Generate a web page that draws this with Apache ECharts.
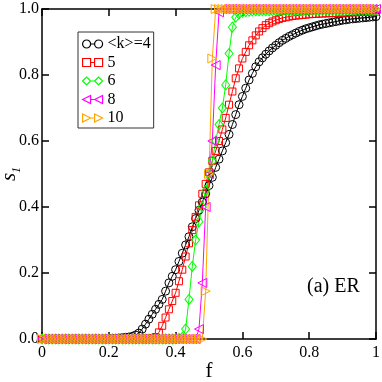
<!DOCTYPE html>
<html>
<head>
<meta charset="utf-8">
<script src="https://cdn.jsdelivr.net/npm/echarts@6/dist/echarts.min.js"></script>
<style>
  html, body { margin: 0; padding: 0; background: #fff; }
  #chart { width: 382px; height: 382px; }
</style>
</head>
<body>
<div id="chart"></div>
<script>
// f grid, step 0.01
const fGrid = [
  0.00, 0.01, 0.02, 0.03, 0.04, 0.05, 0.06, 0.07, 0.08, 0.09,
  0.10, 0.11, 0.12, 0.13, 0.14, 0.15, 0.16, 0.17, 0.18, 0.19,
  0.20, 0.21, 0.22, 0.23, 0.24, 0.25, 0.26, 0.27, 0.28, 0.29,
  0.30, 0.31, 0.32, 0.33, 0.34, 0.35, 0.36, 0.37, 0.38, 0.39,
  0.40, 0.41, 0.42, 0.43, 0.44, 0.45, 0.46, 0.47, 0.48, 0.49,
  0.50, 0.51, 0.52, 0.53, 0.54, 0.55, 0.56, 0.57, 0.58, 0.59,
  0.60, 0.61, 0.62, 0.63, 0.64, 0.65, 0.66, 0.67, 0.68, 0.69,
  0.70, 0.71, 0.72, 0.73, 0.74, 0.75, 0.76, 0.77, 0.78, 0.79,
  0.80, 0.81, 0.82, 0.83, 0.84, 0.85, 0.86, 0.87, 0.88, 0.89,
  0.90, 0.91, 0.92, 0.93, 0.94, 0.95, 0.96, 0.97, 0.98, 0.99,
  1.00
];

// s1 for <k>=4
const s1K4 = [
  0, 0, 0, 0, 0, 0, 0, 0, 0, 0,
  0, 0, 0, 0, 0, 0, 0, 0, 0, 0,
  0.001, 0.002, 0.002, 0.003, 0.004, 0.005, 0.006, 0.008, 0.012, 0.018,
  0.03, 0.045, 0.06, 0.075, 0.09, 0.105, 0.12, 0.145, 0.17, 0.19,
  0.21, 0.235, 0.26, 0.285, 0.31, 0.34, 0.365, 0.39, 0.415, 0.44,
  0.465, 0.49, 0.52, 0.545, 0.57, 0.595, 0.62, 0.65, 0.68, 0.71,
  0.735, 0.76, 0.785, 0.805, 0.825, 0.84, 0.852, 0.863, 0.873, 0.882,
  0.89, 0.898, 0.905, 0.911, 0.917, 0.922, 0.927, 0.932, 0.936, 0.94,
  0.943, 0.946, 0.949, 0.952, 0.954, 0.956, 0.958, 0.96, 0.962, 0.964,
  0.966, 0.967, 0.969, 0.97, 0.971, 0.972, 0.973, 0.974, 0.975, 0.976,
  0.977
];

// s1 for <k>=5
const s1K5 = [
  0, 0, 0, 0, 0, 0, 0, 0, 0, 0,
  0, 0, 0, 0, 0, 0, 0, 0, 0, 0,
  0, 0, 0, 0, 0, 0, 0, 0, 0, 0,
  0.001, 0.001, 0.002, 0.003, 0.006, 0.02, 0.04, 0.065, 0.09, 0.115,
  0.14, 0.175, 0.21, 0.25, 0.29, 0.33, 0.37, 0.405, 0.44, 0.47,
  0.505, 0.54, 0.57, 0.60, 0.635, 0.67, 0.71, 0.75, 0.79, 0.82,
  0.85, 0.87, 0.89, 0.905, 0.92, 0.932, 0.942, 0.951, 0.957, 0.962,
  0.966, 0.97, 0.973, 0.975, 0.977, 0.979, 0.98, 0.981, 0.982, 0.983,
  0.984, 0.985, 0.985, 0.986, 0.986, 0.987, 0.987, 0.988, 0.988, 0.989,
  0.989, 0.989, 0.99, 0.99, 0.99, 0.991, 0.991, 0.991, 0.992, 0.992,
  0.992
];

// s1 for <k>=6
const s1K6 = [
  0, 0, 0, 0, 0, 0, 0, 0, 0, 0,
  0, 0, 0, 0, 0, 0, 0, 0, 0, 0,
  0, 0, 0, 0, 0, 0, 0, 0, 0, 0,
  0, 0, 0, 0, 0, 0, 0, 0, 0, 0,
  0.001, 0.002, 0.005, 0.03, 0.12, 0.22, 0.30, 0.355, 0.40, 0.45,
  0.50, 0.54, 0.60, 0.65, 0.70, 0.77, 0.865, 0.945, 0.975, 0.985,
  0.99, 0.992, 0.993, 0.994, 0.995, 0.995, 0.995, 0.995, 0.995, 0.995,
  0.995, 0.995, 0.995, 0.995, 0.995, 0.995, 0.995, 0.995, 0.995, 0.995,
  0.996, 0.996, 0.996, 0.996, 0.996, 0.996, 0.996, 0.996, 0.996, 0.996,
  0.996, 0.996, 0.996, 0.996, 0.996, 0.996, 0.996, 0.996, 0.996, 0.996,
  0.997
];

// s1 for <k>=8
const s1K8 = [
  0, 0, 0, 0, 0, 0, 0, 0, 0, 0,
  0, 0, 0, 0, 0, 0, 0, 0, 0, 0,
  0, 0, 0, 0, 0, 0, 0, 0, 0, 0,
  0, 0, 0, 0, 0, 0, 0, 0, 0, 0,
  0, 0, 0, 0, 0, 0, 0, 0.03, 0.17, 0.40,
  0.50, 0.60, 0.83, 0.99, 1, 1, 1, 1, 1, 1,
  1, 1, 1, 1, 1, 1, 1, 1, 1, 1,
  1, 1, 1, 1, 1, 1, 1, 1, 1, 1,
  1, 1, 1, 1, 1, 1, 1, 1, 1, 1,
  1, 1, 1, 1, 1, 1, 1, 1, 1, 1,
  1
];

// s1 for <k>=10
const s1K10 = [
  0, 0, 0, 0, 0, 0, 0, 0, 0, 0,
  0, 0, 0, 0, 0, 0, 0, 0, 0, 0,
  0, 0, 0, 0, 0, 0, 0, 0, 0, 0,
  0, 0, 0, 0, 0, 0, 0, 0, 0, 0,
  0, 0, 0, 0, 0, 0, 0, 0, 0, 0.145,
  0.50, 0.85, 1, 1, 1, 1, 1, 1, 1, 1,
  1, 1, 1, 1, 1, 1, 1, 1, 1, 1,
  1, 1, 1, 1, 1, 1, 1, 1, 1, 1,
  1, 1, 1, 1, 1, 1, 1, 1, 1, 1,
  1, 1, 1, 1, 1, 1, 1, 1, 1, 1,
  1
];

const serif = 'Liberation Serif';

// name, values, colour, symbol, size, rotate, legend icon
const seriesDefs = [
  { name: '<k>=4', values: s1K4, color: '#000000', symbol: 'circle', size: 8, rotate: 0,
    icon: 'path://M0,4 A4,4 0 1,1 8,4 A4,4 0 1,1 0,4 Z M8,4 L12,4 L8,4 Z M12,4 A4,4 0 1,1 20,4 A4,4 0 1,1 12,4 Z' },
  { name: '5', values: s1K5, color: '#ff0000', symbol: 'rect', size: 7, rotate: 0,
    icon: 'path://M0,0 L8,0 L8,8 L0,8 Z M8,4 L12,4 L8,4 Z M12,0 L20,0 L20,8 L12,8 Z' },
  { name: '6', values: s1K6, color: '#00ff00', symbol: 'diamond', size: [8, 10], rotate: 0,
    icon: 'path://M0,4 L4,0 L8,4 L4,8 Z M8,4 L12,4 L8,4 Z M12,4 L16,0 L20,4 L16,8 Z' },
  { name: '8', values: s1K8, color: '#ff00ff', symbol: 'triangle', size: 9, rotate: 90,
    icon: 'path://M0,4 L8,0 L8,8 Z M8,4 L12,4 L8,4 Z M12,4 L20,0 L20,8 Z' },
  { name: '10', values: s1K10, color: '#ffa500', symbol: 'triangle', size: 9, rotate: -90,
    icon: 'path://M0,0 L8,4 L0,8 Z M8,4 L12,4 L8,4 Z M12,0 L20,4 L12,8 Z' }
];

const chart = echarts.init(document.getElementById('chart'), null, { renderer: 'canvas' });

const fmtX = v => (v === 0 ? '0' : v === 1 ? '1' : v.toFixed(1));
const fmtY = v => v.toFixed(1);

const axisLine = { show: true, onZero: false, lineStyle: { color: '#000', width: 1.5 } };
const axisTick = { show: true, inside: true, length: 7, lineStyle: { color: '#000', width: 1.5 } };

chart.setOption({
  animation: false,
  backgroundColor: '#fff',
  textStyle: { fontFamily: serif },
  grid: { left: 42, right: 6, top: 9, bottom: 43, containLabel: false, outerBoundsMode: 'none' },
  title: {
    text: '(a) ER',
    left: 307,
    top: 277,
    padding: 0,
    textStyle: { fontFamily: serif, fontSize: 20, fontWeight: 'normal', color: '#000' }
  },
  legend: {
    orient: 'vertical',
    left: 78,
    top: 32,
    padding: [4, 3, 2, 4],
    itemGap: 2.5,
    itemWidth: 20,
    itemHeight: 8,
    backgroundColor: '#fff',
    borderColor: '#333',
    borderWidth: 1,
    borderRadius: 0,
    textStyle: { fontFamily: serif, fontSize: 16, lineHeight: 16, color: '#000' },
    data: seriesDefs.map(d => ({
      name: d.name,
      icon: d.icon,
      itemStyle: { color: 'rgba(0,0,0,0)', borderColor: d.color, borderWidth: 1.2 }
    }))
  },
  xAxis: [
    {
      type: 'value', position: 'bottom', min: 0, max: 1, interval: 0.2,
      name: 'f', nameLocation: 'middle', nameGap: 22, nameMoveOverlap: false,
      nameTextStyle: { fontFamily: serif, fontSize: 21, color: '#000' },
      axisLine, axisTick,
      axisLabel: { fontFamily: serif, fontSize: 16, color: '#000', margin: 6, formatter: fmtX },
      splitLine: { show: false }
    },
    {
      type: 'value', position: 'top', min: 0, max: 1, interval: 0.2,
      axisLine, axisTick, axisLabel: { show: false }, splitLine: { show: false }
    }
  ],
  yAxis: [
    {
      type: 'value', position: 'left', min: 0, max: 1, interval: 0.2,
      name: '{s|s}{sub|1}', nameLocation: 'middle', nameGap: 19, nameRotate: 90, nameMoveOverlap: false,
      nameTextStyle: {
        rich: {
          s: { fontFamily: serif, fontSize: 21, fontStyle: 'italic', color: '#000', padding: [0, 0, 3, 0] },
          sub: { fontFamily: serif, fontSize: 12, fontStyle: 'italic', color: '#000', verticalAlign: 'bottom' }
        }
      },
      axisLine, axisTick,
      axisLabel: { fontFamily: serif, fontSize: 16, color: '#000', margin: 3, formatter: fmtY },
      splitLine: { show: false }
    },
    {
      type: 'value', position: 'right', min: 0, max: 1, interval: 0.2,
      axisLine, axisTick, axisLabel: { show: false }, splitLine: { show: false }
    }
  ],
  series: seriesDefs.map(d => ({
    name: d.name,
    type: 'line',
    xAxisIndex: 0,
    yAxisIndex: 0,
    clip: false,
    color: d.color,
    symbol: d.symbol,
    symbolSize: d.size,
    symbolRotate: d.rotate,
    showAllSymbol: true,
    itemStyle: { color: 'rgba(0,0,0,0)', borderColor: d.color, borderWidth: 1 },
    lineStyle: { color: d.color, width: 1 },
    emphasis: { disabled: true },
    data: fGrid.map((f, i) => [f, d.values[i]])
  }))
});
</script>
</body>
</html>
